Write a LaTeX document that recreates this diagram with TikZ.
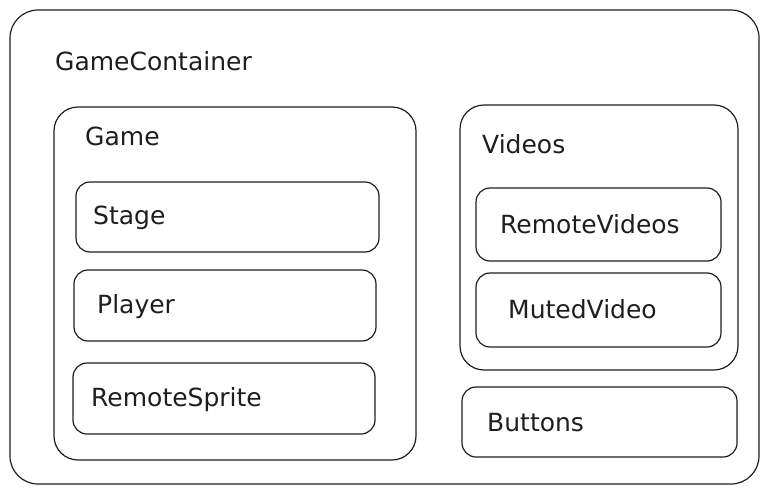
\documentclass[tikz,border=0pt]{standalone}
\usepackage{fontspec}
\setmainfont{DejaVu Sans}
\definecolor{ink}{HTML}{1E1E1E}
\begin{document}
\begin{tikzpicture}[x=1pt,y=-1pt,
  frame/.style={draw=ink, line width=1.2pt, rounded corners=#1, inner sep=0pt},
  frame/.default=14pt,
  lbl/.style={anchor=base west, inner sep=0pt, text=ink, font=\fontsize{25}{29}\selectfont}]
\useasboundingbox (0,0) rectangle (769,490);
% containers
\node[frame=28pt, minimum width=749pt, minimum height=474pt] (outer) at (384.5,247) {};
\node[frame=24pt, minimum width=362pt, minimum height=353pt] (game) at (235,283.5) {};
\node[frame, minimum width=303pt, minimum height=70pt] (stage) at (227.5,217) {};
\node[frame, minimum width=302pt, minimum height=71pt] (player) at (225,305.5) {};
\node[frame, minimum width=302pt, minimum height=71pt] (sprite) at (224,398.5) {};
\node[frame=24pt, minimum width=278pt, minimum height=265pt] (videos) at (599,237.5) {};
\node[frame, minimum width=245pt, minimum height=73pt] (rv) at (598.5,224.5) {};
\node[frame, minimum width=245pt, minimum height=74pt] (mv) at (598.5,310) {};
\node[frame, minimum width=275pt, minimum height=70pt] (buttons) at (599.5,422) {};
% labels
\node[lbl] (tgc) at (55,70) {GameContainer};
\node[lbl] (tgame) at (85,145) {Game};
\node[lbl] (tstage) at (93,224) {Stage};
\node[lbl] (tplayer) at (97,313) {Player};
\node[lbl] (tsprite) at (91,406) {RemoteSprite};
\node[lbl] (tvideos) at (482,153) {Videos};
\node[lbl] (trv) at (500,233) {RemoteVideos};
\node[lbl] (tmv) at (508,318) {MutedVideo};
\node[lbl] (tbtn) at (487,431) {Buttons};
\end{tikzpicture}
\end{document}
